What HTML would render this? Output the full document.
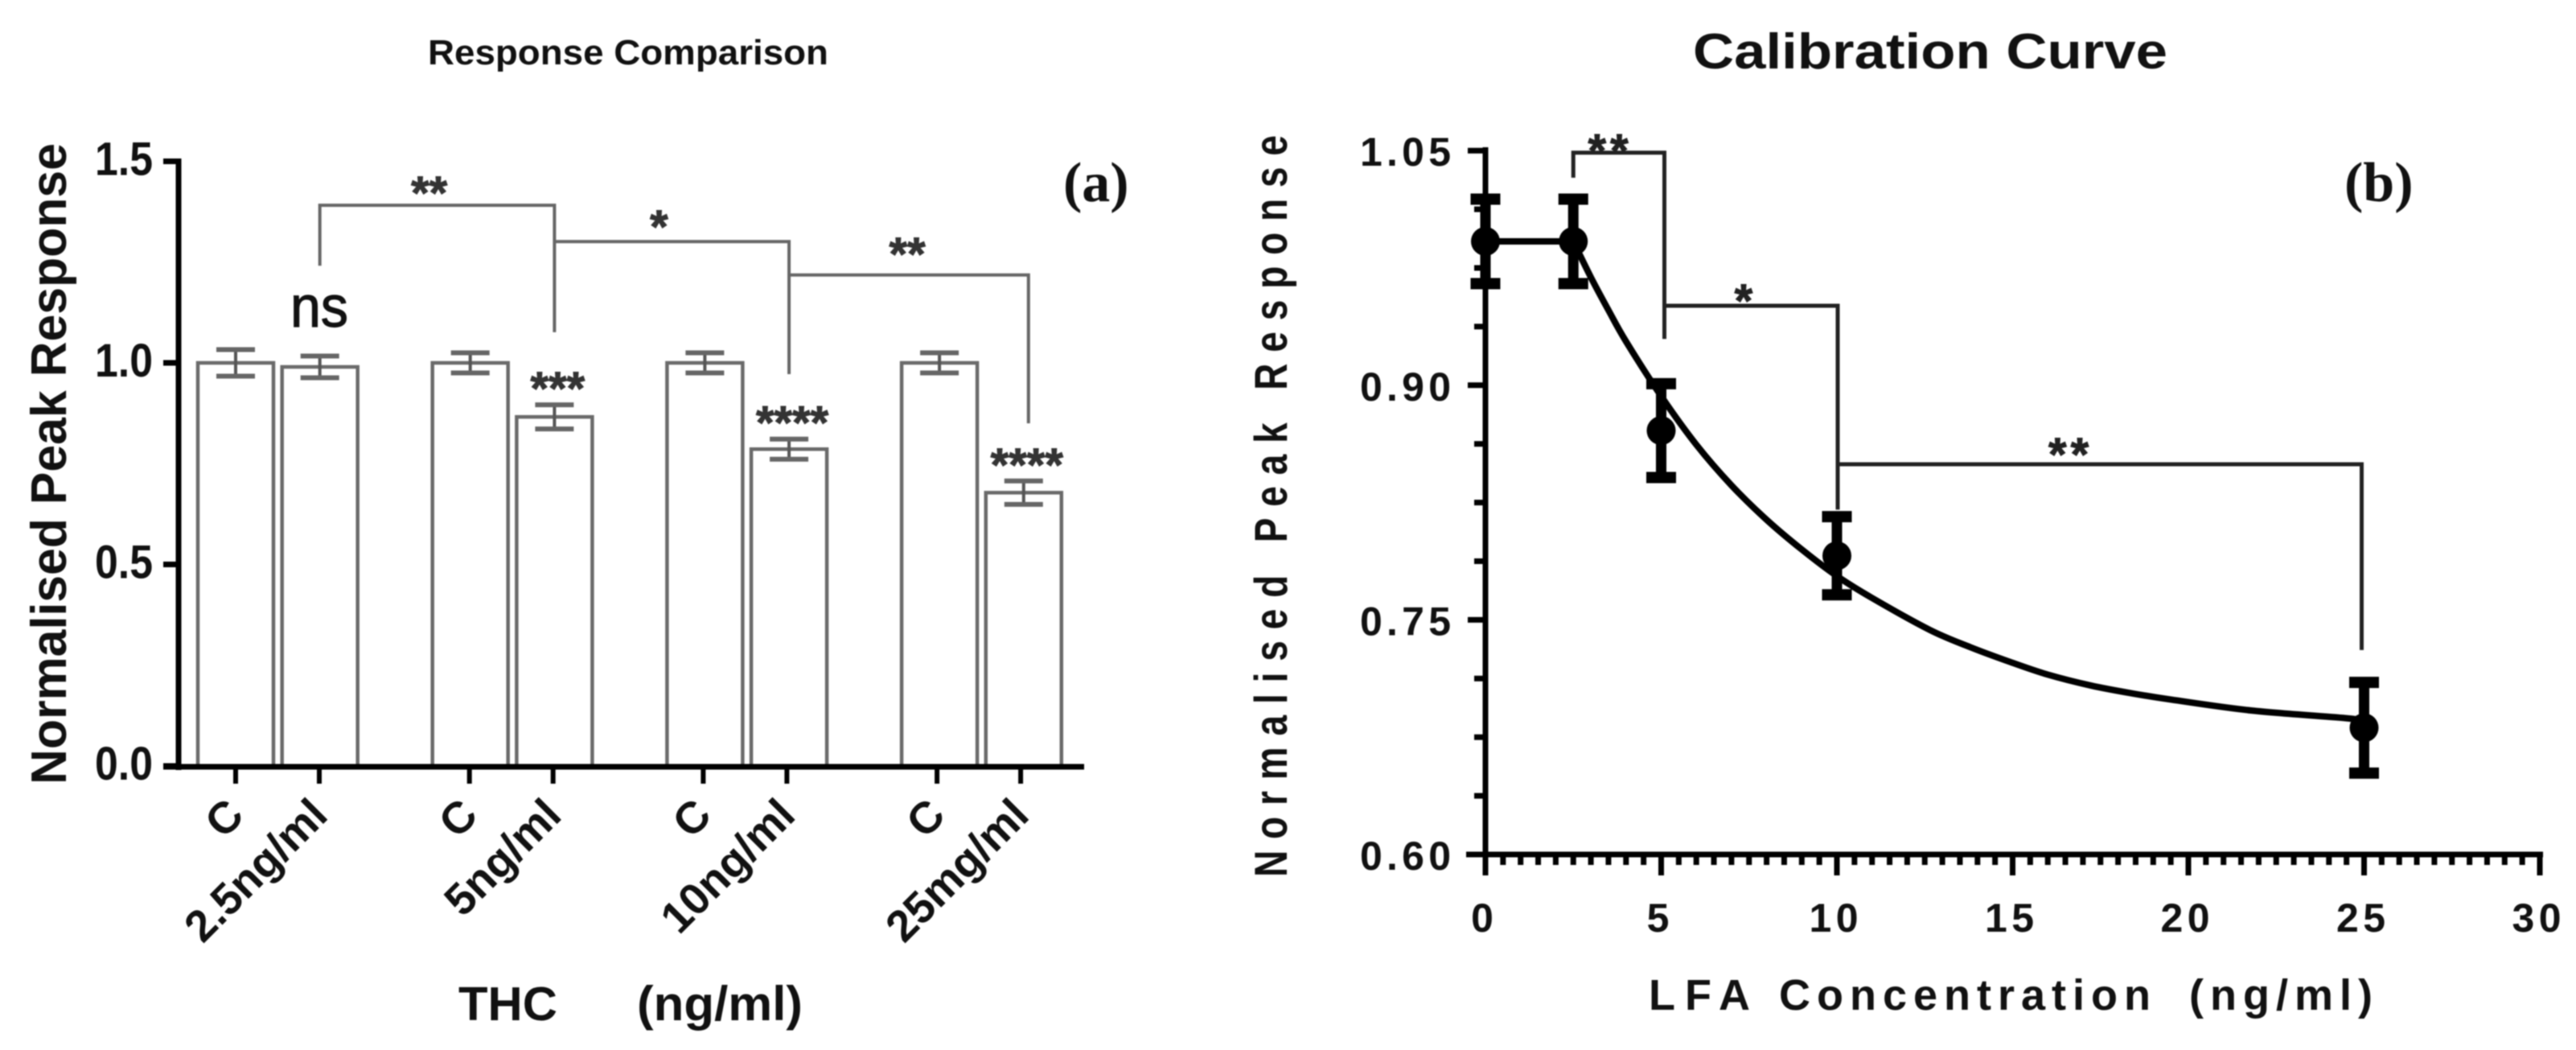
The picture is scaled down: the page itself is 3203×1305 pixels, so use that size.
<!DOCTYPE html>
<html lang="en">
<head>
<meta charset="utf-8">
<title>Response Comparison and Calibration Curve</title>
<style>
  html, body { margin: 0; padding: 0; background: #fff; }
  svg { display: block; filter: blur(0.7px); }
  text { font-family: "Liberation Sans", sans-serif; fill: #111; }
  .serif { font-family: "Liberation Serif", serif; font-weight: bold; }
  .b { font-weight: bold; }
</style>
</head>
<body>
<svg id="figure" xmlns="http://www.w3.org/2000/svg" width="3203" height="1305" viewBox="0 0 3203 1305">
  <rect width="3203" height="1305" fill="#fff"/>

  <text class="b" x="532" y="80" font-size="44" textLength="498" lengthAdjust="spacingAndGlyphs">Response Comparison</text>
  <text class="b" font-size="62" textLength="797" lengthAdjust="spacingAndGlyphs" transform="translate(82,975) rotate(-90)">Normalised Peak Response</text>
  <text class="b" x="570" y="1268" font-size="59" textLength="123" lengthAdjust="spacingAndGlyphs">THC</text>
  <text class="b" x="792" y="1268" font-size="60" textLength="206" lengthAdjust="spacingAndGlyphs">(ng/ml)</text>
  <text class="serif" x="1322" y="250" font-size="70">(a)</text>
  <text x="397" y="406" font-size="72" text-anchor="middle" textLength="72" lengthAdjust="spacingAndGlyphs" stroke="#111" stroke-width="1.2">ns</text>

  <text class="b" x="2105" y="85" font-size="62" textLength="590" lengthAdjust="spacingAndGlyphs">Calibration Curve</text>
  <text class="b" font-size="46" textLength="922" lengthAdjust="spacing" transform="translate(1600,1090) rotate(-90) scale(1,1.25)">Normalised Peak Response</text>
  <text class="b" y="1255" font-size="54"><tspan x="2050" letter-spacing="12">LFA</tspan> <tspan x="2212" letter-spacing="8">Concentration</tspan> <tspan x="2722" letter-spacing="8">(ng/ml)</tspan></text>
  <text class="serif" x="2915" y="250" font-size="70">(b)</text>

  <g id="chart-a"></g>
  <g id="chart-b"></g>
</svg>

<script>
// ---------- Chart (a) data ----------
const barCategories = ['C', '2.5ng/ml', 'C', '5ng/ml', 'C', '10ng/ml', 'C', '25mg/ml'];
const barValues = [1.0, 0.99, 1.0, 0.866, 1.0, 0.786, 1.0, 0.678];
const barErrors = [0.033, 0.027, 0.025, 0.03, 0.025, 0.025, 0.025, 0.029];
const barSignificance = ['', '', '', '***', '', '****', '', '****'];
const barYTicks = ['0.0', '0.5', '1.0', '1.5'];

// ---------- Chart (b) data ----------
const pointConcentrations = [0, 2.5, 5, 10, 25];
const pointResponses = [0.992, 0.992, 0.871, 0.791, 0.681];
const pointErrors = [0.027, 0.027, 0.03, 0.025, 0.029];
const curveConcentrations = [0, 2.5, 3, 3.5, 4, 5, 6, 7, 8, 9, 10, 11, 12.65, 13.8, 14.94, 16, 17.23, 18.4, 19.52, 21.81, 24.55, 25];
const curveResponses = [0.992, 0.992, 0.969, 0.948, 0.928, 0.893, 0.862, 0.836, 0.814, 0.795, 0.778, 0.764, 0.7435, 0.7325, 0.723, 0.715, 0.708, 0.703, 0.699, 0.692, 0.687, 0.685];
const curveYTicks = ['0.60', '0.75', '0.90', '1.05'];
const curveXTicks = ['0', '5', '10', '15', '20', '25', '30'];

const NS = 'http://www.w3.org/2000/svg';
function make(parent, tag, attrs, content) {
  const el = document.createElementNS(NS, tag);
  for (const k in attrs) el.setAttribute(k, attrs[k]);
  if (content !== undefined) el.textContent = content;
  parent.appendChild(el);
  return el;
}
function line(parent, x1, y1, x2, y2, color, width) {
  return make(parent, 'line', { x1, y1, x2, y2, stroke: color, 'stroke-width': width });
}

// ---------- Chart (a) ----------
const gA = document.getElementById('chart-a');
const yA = v => 952 - v * 501;
const xBar = i => 293 + 291.7 * Math.floor(i / 2) + (i % 2) * 104.7;
const xTickA = i => 293 + 290.7 * Math.floor(i / 2) + (i % 2) * 104;
const BAR_WIDTH = 94;

barValues.forEach((v, i) => {
  const bar = make(gA, 'rect', { x: xBar(i) - BAR_WIDTH / 2, y: yA(v), width: BAR_WIDTH, height: 952 - yA(v), fill: '#fff', stroke: '#6a6a6a', 'stroke-width': 4.5 });
  
  

  const hi = yA(v + barErrors[i]);
  const lo = yA(v - barErrors[i]);
  const stem = line(gA, xBar(i), hi, xBar(i), lo, '#555', 4);
  
  
  const capTop = line(gA, xBar(i) - 24, hi, xBar(i) + 24, hi, '#666', 6);
  
  
  const capBottom = line(gA, xBar(i) - 24, lo, xBar(i) + 24, lo, '#666', 6);
  
  

  if (barSignificance[i]) {
    const sig = make(gA, 'text', { x: xBar(i) + 4, y: hi, 'font-size': 58, 'font-weight': 'bold', 'text-anchor': 'middle', stroke: '#333', 'stroke-width': 1, style: 'fill:#333' }, barSignificance[i]);
    
    
  }
});

// axes (a)
const axisAY = line(gA, 222, 197, 222, 957, '#000', 7);


const axisAX = line(gA, 203, 953, 1348, 953, '#000', 7);



barYTicks.forEach(t => {
  const v = parseFloat(t);
  const tick = line(gA, 203, yA(v), 222, yA(v), '#000', 7);
  
  
  const label = make(gA, 'text', { x: 190, y: yA(v) + 17, 'font-size': 58, 'font-weight': 'bold', 'text-anchor': 'end', textLength: 72, lengthAdjust: 'spacingAndGlyphs' }, t);
  
  
});

barCategories.forEach((c, i) => {
  const tick = line(gA, xTickA(i), 953, xTickA(i), 974, '#000', 6);
  
  
  const ax = xTickA(i) + 13;
  const label = make(gA, 'text', { x: ax, y: 1016, 'font-size': 55, 'font-weight': 'bold', 'text-anchor': 'end', transform: 'rotate(-45 ' + ax + ' 1016)' }, c);
  
  
});

function bracketA(from, to, top, leftEnd, rightEnd, nudge, stars, starX, starY) {
  const x1 = xBar(from), x2 = xBar(to) + nudge;
  const path = make(gA, 'path', { d: 'M' + x1 + ' ' + yA(leftEnd) + 'V' + yA(top) + 'H' + x2 + 'V' + yA(rightEnd), fill: 'none', stroke: '#666', 'stroke-width': 4 });
  
  
  const label = make(gA, 'text', { x: x1 + starX, y: yA(top) + starY, 'font-size': 58, 'font-weight': 'bold', 'text-anchor': 'middle', stroke: '#333', 'stroke-width': 1, style: 'fill:#333' }, stars);
  
  
}
bracketA(1, 3, 1.391, 1.241, 1.076, 0, '**', 136, 5);
bracketA(3, 5, 1.301, 1.301, 0.972, 0, '*', 130, 2);
bracketA(5, 7, 1.218, 1.218, 0.85, 6, '**', 147, -6);

// ---------- Chart (b) ----------
const gB = document.getElementById('chart-b');
const xB = c => 1847 + c * 43.7;
const yB = r => 1062 - (r - 0.6) * 1944;

// axes (b)
const axisBY = line(gB, 1847, 183, 1847, 1088, '#000', 7);


const axisBX = line(gB, 1823, 1062, 3162, 1062, '#000', 7);



curveYTicks.forEach((t, i) => {
  const v = parseFloat(t);
  const tick = line(gB, 1825, yB(v), 1847, yB(v), '#000', 7);
  
  
  const label = make(gB, 'text', { x: 1804, y: yB(v) + 19, 'font-size': 50, 'font-weight': 'bold', 'text-anchor': 'end', textLength: 113, lengthAdjust: 'spacing' }, t);
  
  
  if (i < curveYTicks.length - 1) {
    for (let m = 1; m < 4; m++) {
      const mv = v + m * 0.0375;
      const minor = line(gB, 1833, yB(mv), 1847, yB(mv), '#000', 7);
      
      
    }
  }
});

curveXTicks.forEach((t, i) => {
  const c = parseFloat(t);
  const tick = line(gB, xB(c), 1062, xB(c), 1088, '#000', 7);
  
  
  const attrs = { x: xB(c) - 4, y: 1158, 'font-size': 50, 'font-weight': 'bold', 'text-anchor': 'middle' };
  if (t.length > 1) { attrs.textLength = 61; attrs.lengthAdjust = 'spacing'; }
  const label = make(gB, 'text', attrs, t);
  
  
  if (i < curveXTicks.length - 1) {
    for (let m = 1; m < 10; m++) {
      const mc = c + m * 0.5;
      const minor = line(gB, xB(mc), 1062, xB(mc), 1075, '#000', 7);
      
      
    }
  }
});

// fitted curve: straight plateau, then a smooth spline through the read values
const curveXY = curveConcentrations.map((c, i) => [xB(c), yB(curveResponses[i])]);
let curveD = 'M' + curveXY[0][0] + ' ' + curveXY[0][1] + 'L' + curveXY[1][0] + ' ' + curveXY[1][1];
for (let i = 1; i < curveXY.length - 1; i++) {
  const p0 = i === 1 ? curveXY[1] : curveXY[i - 1];
  const p1 = curveXY[i];
  const p2 = curveXY[i + 1];
  const p3 = curveXY[Math.min(i + 2, curveXY.length - 1)];
  curveD += 'C' + (p1[0] + (p2[0] - p0[0]) / 6) + ' ' + (p1[1] + (p2[1] - p0[1]) / 6) + ' ' +
    (p2[0] - (p3[0] - p1[0]) / 6) + ' ' + (p2[1] - (p3[1] - p1[1]) / 6) + ' ' + p2[0] + ' ' + p2[1];
}
const curve = make(gB, 'path', { d: curveD, fill: 'none', stroke: '#000', 'stroke-width': 8, 'stroke-linejoin': 'round' });



// points with error bars
pointConcentrations.forEach((c, i) => {
  const x = xB(c), y = yB(pointResponses[i]);
  const hi = yB(pointResponses[i] + pointErrors[i]);
  const lo = yB(pointResponses[i] - pointErrors[i]);
  const stem = line(gB, x, hi, x, lo, '#000', 13);
  
  
  const capTop = line(gB, x - 18.5, hi, x + 18.5, hi, '#000', 14);
  
  
  const capBottom = line(gB, x - 18.5, lo, x + 18.5, lo, '#000', 14);
  
  
  const dot = make(gB, 'circle', { cx: x, cy: y, r: 18, fill: '#000' });
  
  
});

function bracketB(from, to, top, leftEnd, rightEnd, nudgeL, nudgeR, stars, starC, starY) {
  const x1 = xBar === null ? 0 : xB(from) + nudgeL, x2 = xB(to) + nudgeR;
  const path = make(gB, 'path', { d: 'M' + x1 + ' ' + yB(leftEnd) + 'V' + yB(top) + 'H' + x2 + 'V' + yB(rightEnd), fill: 'none', stroke: '#222', 'stroke-width': 5 });
  
  
  const label = make(gB, 'text', { x: xB(starC), y: yB(top) + starY, 'font-size': 58, 'font-weight': 'bold', 'text-anchor': 'middle', 'letter-spacing': 5, stroke: '#222', 'stroke-width': 1, style: 'fill:#222' }, stars);
  
  
}
bracketB(2.5, 5, 1.0487, 1.0327, 0.9296, 0, 4, '**', 3.55, 18);
bracketB(5, 10, 0.9508, 0.9508, 0.8205, 4, 1, '*', 7.4, 14);
bracketB(10, 25, 0.8495, 0.8495, 0.7307, 1, -3, '**', 16.65, 8);
</script>
</body>
</html>
